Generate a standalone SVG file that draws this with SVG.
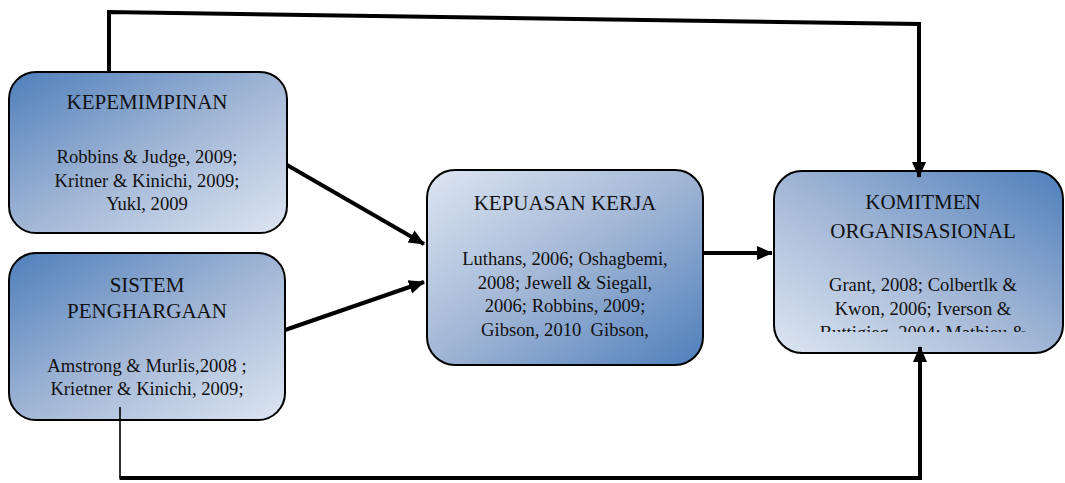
<svg xmlns="http://www.w3.org/2000/svg" width="1065" height="483" viewBox="0 0 1065 483">
<style>
.box{stroke:#000;stroke-width:2}
.t{font-family:"Liberation Serif","Times New Roman",serif;fill:#111;text-anchor:middle}
.h{font-size:21px}
.b{font-size:18.6px}
.c{fill:none;stroke:#000;stroke-width:4}
</style>
<defs>
<linearGradient id="gTL" x1="0" y1="0" x2="1" y2="1">
<stop offset="0" stop-color="#4E7FBB"/><stop offset="0.5" stop-color="#A0B5D5"/><stop offset="1" stop-color="#DDE6F2"/>
</linearGradient>
<linearGradient id="gBR" x1="0" y1="0" x2="1" y2="1">
<stop offset="0" stop-color="#DDE6F2"/><stop offset="0.5" stop-color="#A0B5D5"/><stop offset="1" stop-color="#4E7FBB"/>
</linearGradient>
<linearGradient id="gTR" x1="1" y1="0" x2="0" y2="1">
<stop offset="0" stop-color="#4E7FBB"/><stop offset="0.5" stop-color="#A0B5D5"/><stop offset="1" stop-color="#DDE6F2"/>
</linearGradient>
<marker id="ah" markerUnits="userSpaceOnUse" markerWidth="16" markerHeight="16" viewBox="0 0 16 16" refX="15" refY="8" orient="auto">
<path d="M0,1 L16,8 L0,15 Z" fill="#000"/>
</marker>
<clipPath id="clip4"><rect x="775" y="172" width="288" height="160"/></clipPath>
</defs>

<g id="kepemimpinan">
<rect class="box" x="9" y="72" width="278" height="161" rx="27" fill="url(#gTL)"/>
<text class="t h" x="147" y="109">KEPEMIMPINAN</text>
<text class="t b" x="147" y="163">Robbins &amp; Judge, 2009;</text>
<text class="t b" x="147" y="187">Kritner &amp; Kinichi, 2009;</text>
<text class="t b" x="147" y="210">Yukl, 2009</text>
</g>

<g id="sistem-penghargaan">
<rect class="box" x="9" y="253" width="276" height="167" rx="27" fill="url(#gTL)"/>
<text class="t h" x="147" y="292">SISTEM</text>
<text class="t h" x="147" y="318">PENGHARGAAN</text>
<text class="t b" x="147" y="372">Amstrong &amp; Murlis,2008 ;</text>
<text class="t b" x="147" y="395">Krietner &amp; Kinichi, 2009;</text>
</g>

<g id="kepuasan-kerja">
<rect class="box" x="427" y="170" width="276" height="195" rx="28" fill="url(#gBR)"/>
<text class="t h" x="565" y="210">KEPUASAN KERJA</text>
<text class="t b" x="565" y="265">Luthans, 2006; Oshagbemi,</text>
<text class="t b" x="565" y="289">2008; Jewell &amp; Siegall,</text>
<text class="t b" x="565" y="312">2006; Robbins, 2009;</text>
<text class="t b" x="565" y="336" xml:space="preserve">Gibson, 2010  Gibson,</text>
</g>

<g id="komitmen-organisasional">
<rect class="box" x="774" y="171" width="289" height="182" rx="28" fill="url(#gTR)"/>
<text class="t h" x="923" y="209">KOMITMEN</text>
<text class="t h" x="923" y="238">ORGANISASIONAL</text>
<text class="t b" x="923" y="291">Grant, 2008; Colbertlk &amp;</text>
<text class="t b" x="923" y="315">Kwon, 2006; Iverson &amp;</text>
<text class="t b" x="923" y="339" clip-path="url(#clip4)">Buttigieg, 2004; Mathieu &amp;</text>
</g>

<g id="connectors">
<polyline class="c" points="109,71 109,12 919,24 919,177" marker-end="url(#ah)"/>
<line x1="120" y1="407" x2="120" y2="478" stroke="#000" stroke-width="1.6"/>
<polyline class="c" points="119.5,478 920,478"/>
<polyline class="c" stroke-width="3.5" points="920,480 920,347" marker-end="url(#ah)"/>
<line class="c" x1="287" y1="165" x2="424" y2="244" marker-end="url(#ah)"/>
<line class="c" x1="285" y1="330" x2="424" y2="282" marker-end="url(#ah)"/>
<line class="c" x1="703" y1="253" x2="772" y2="253" marker-end="url(#ah)"/>
</g>
</svg>
